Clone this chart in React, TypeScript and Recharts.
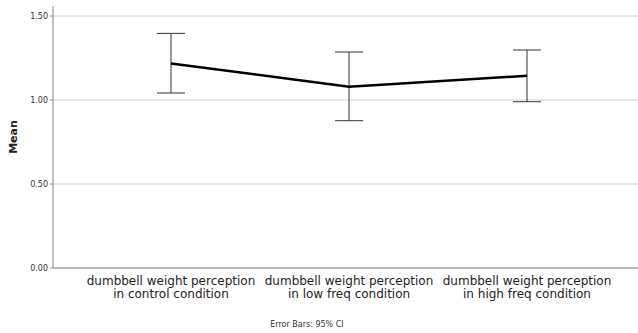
import { CartesianGrid, ErrorBar, Line, LineChart, XAxis, YAxis } from 'recharts'

const CATEGORIES = [
  ['dumbbell weight perception', 'in control condition'],
  ['dumbbell weight perception', 'in low freq condition'],
  ['dumbbell weight perception', 'in high freq condition'],
]
const MEANS = [1.218, 1.079, 1.145]
const CI_LOW = [1.042, 0.877, 0.99]
const CI_HIGH = [1.397, 1.286, 1.298]
const Y_TICKS = [0, 0.5, 1, 1.5]

const data = MEANS.map((m, i) => ({
  name: String(i),
  mean: m,
  err: [m - CI_LOW[i], CI_HIGH[i] - m],
}))

const FONT = '"DejaVu Sans", sans-serif'

function CatTick(props: any) {
  const { x, y, payload } = props
  const lines = CATEGORIES[Number(payload.value)]
  return (
    <text x={x} y={y} textAnchor="middle" fontFamily={FONT} fontSize={12} fill="#222">
      <tspan x={x} dy={9}>{lines[0]}</tspan>
      <tspan x={x} dy={13}>{lines[1]}</tspan>
    </text>
  )
}

export default function App() {
  return (
    <div style={{ position: 'absolute', left: 0, top: 0, width: 638, height: 333, background: '#fff' }}>
      <LineChart
        width={638}
        height={333}
        data={data}
        margin={{ top: 6, right: 0, bottom: 25, left: 0 }}
      >
        <CartesianGrid horizontal vertical={false} stroke="#d0d0d0" horizontalValues={Y_TICKS} />
        <XAxis
          dataKey="name"
          type="category"
          padding={{ left: 118, right: 111 }}
          tick={<CatTick />}
          tickLine={false}
          axisLine={{ stroke: '#888' }}
          height={40}
          interval={0}
        />
        <YAxis
          width={53}
          domain={[0, 1.56]}
          ticks={Y_TICKS}
          tickFormatter={(v) => Number(v).toFixed(2)}
          tick={{ fontSize: 8, fill: '#333', fontFamily: FONT }}
          tickSize={3}
          tickMargin={2}
          tickLine={{ stroke: '#888' }}
          axisLine={{ stroke: '#888' }}
          label={{
            value: 'Mean',
            angle: -90,
            position: 'insideLeft',
            offset: 13,
            style: { fontSize: 11, fontWeight: 'bold', fill: '#222', fontFamily: FONT, textAnchor: 'middle' },
          }}
        />
        <Line
          dataKey="mean"
          stroke="#000"
          strokeWidth={2.5}
          dot={false}
          isAnimationActive={false}
        >
          <ErrorBar dataKey="err" direction="y" width={14} stroke="#333" strokeWidth={1} isAnimationActive={false} />
        </Line>
      </LineChart>
      <div
        style={{
          position: 'absolute',
          left: 0,
          top: 320,
          width: 614,
          textAlign: 'center',
          fontFamily: FONT,
          fontSize: 8,
          color: '#333',
        }}
      >
        Error Bars: 95% CI
      </div>
    </div>
  )
}
